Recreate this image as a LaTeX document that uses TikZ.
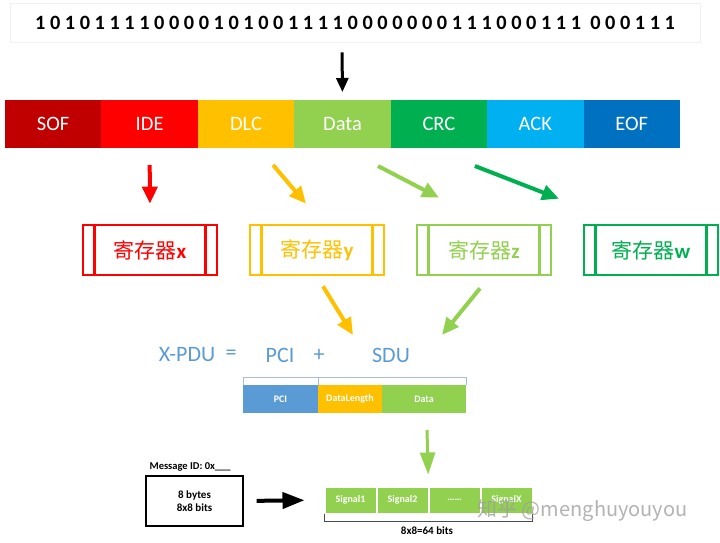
\documentclass[tikz,border=0pt]{standalone}
\usepackage{fontspec}
\setmainfont{Carlito}
\newfontfamily\cjk{Noto Sans CJK SC}
\usetikzlibrary{arrows.meta,positioning}
\definecolor{sofred}{HTML}{C00000}
\definecolor{idered}{HTML}{FF0000}
\definecolor{dlcyellow}{HTML}{FFC000}
\definecolor{datagreen}{HTML}{92D050}
\definecolor{crcgreen}{HTML}{00B050}
\definecolor{ackblue}{HTML}{00B0F0}
\definecolor{eofblue}{HTML}{0070C0}
\definecolor{pciblue}{HTML}{5B9BD5}
\definecolor{bracketgray}{HTML}{A9BCD3}
\tikzset{
  seg/.style={minimum width=96.43pt,minimum height=48pt,inner sep=0pt,outer sep=0pt,text=white,font=\fontsize{20.5}{24}\selectfont},
  regbox/.style={draw=#1,line width=2.6pt,text=#1,minimum width=134pt,minimum height=50pt,font=\fontsize{21}{24}\selectfont},
  fatarrow/.style={line width=4pt,draw=#1,-{Triangle[length=17pt,width=15pt]}},
  pdubox/.style={minimum height=28pt,inner sep=0pt,outer sep=0pt,text=white,font=\bfseries\fontsize{10}{12}\selectfont},
  sigbox/.style={draw=white,line width=1pt,fill=datagreen,minimum width=51pt,minimum height=26pt,inner sep=0pt,text=white,font=\bfseries\fontsize{10}{12}\selectfont},
  pdutext/.style={text=pciblue,font=\fontsize{22}{26}\selectfont},
}
\begin{document}
\begin{tikzpicture}[x=1pt, y=-1pt]
  \useasboundingbox (0,0) rectangle (720,543);
  % bit stream
  \node[draw=gray!12,line width=0.8pt,minimum width=690pt,minimum height=39pt,font=\bfseries\fontsize{20.3}{24}\selectfont] (bits) at (355,22.5) {1 0 1 0 1 1 1 1 0 0 0 0 1 0 1 0 0 1 1 1 1 0 0 0 0 0 0 0 1 1 1 0 0 0 1 1 1 \ 0 0 0 1 1 1};
  % frame fields
  \node[seg,fill=sofred] (sof) at (53.2,124) {SOF};
  \node[seg,fill=idered,right=0pt of sof] (ide) {IDE};
  \node[seg,fill=dlcyellow,right=0pt of ide] (dlc) {DLC};
  \node[seg,fill=datagreen,right=0pt of dlc] (data) {Data};
  \node[seg,fill=crcgreen,right=0pt of data] (crc) {CRC};
  \node[seg,fill=ackblue,right=0pt of crc] (ack) {ACK};
  \node[seg,fill=eofblue,right=0pt of ack] (eof) {EOF};
  \draw[line width=3pt,-{Triangle[length=14pt,width=12pt]}] ([xshift=-13pt]bits.south) -- (data.north) [shorten <=10pt, shorten >=8pt];
  % registers
  \node[regbox=idered] (rx) at (150,250) {{\cjk 寄存器}\textbf{x}};
  \node[regbox=dlcyellow] (ry) at (317,250) {{\cjk 寄存器}\textbf{y}};
  \node[regbox=datagreen] (rz) at (484,250) {{\cjk 寄存器}\textbf{z}};
  \node[regbox=crcgreen] (rw) at (651,250) {{\cjk 寄存器}\textbf{w}};
  \foreach \r/\c in {rx/idered, ry/dlcyellow, rz/datagreen, rw/crcgreen} {
    \draw[\c,line width=2.6pt] ([xshift=13pt]\r.north west) -- ([xshift=13pt]\r.south west);
    \draw[\c,line width=2.6pt] ([xshift=-13pt]\r.north east) -- ([xshift=-13pt]\r.south east);
  }
  \draw[fatarrow=idered,shorten <=17pt,shorten >=20pt] (ide.south) -- (rx.north);
  \draw[fatarrow=dlcyellow] ([shift={(27,17)}]dlc.south) -- ([shift={(-11,-20)}]ry.north);
  \draw[fatarrow=datagreen] ([shift={(35.5,18)}]data.south) -- ([shift={(-45,-26)}]rz.north);
  \draw[fatarrow=crcgreen] ([shift={(36,18)}]crc.south) -- ([shift={(-92,-25)}]rw.north);
  % PDU
  \node[pdutext] (xpdu) at (187,355) {X-PDU};
  \node[pdutext] (eq) at (231,355) {=};
  \node[pdutext] (pcit) at (280,355) {PCI};
  \node[pdutext] (plus) at (319,355) {+};
  \node[pdutext] (sdu) at (391,355) {SDU};
  \draw[fatarrow=dlcyellow] ([shift={(6,10)}]ry.south) -- ([shift={(34,-20)}]plus.center);
  \draw[fatarrow=datagreen] ([shift={(-4,12)}]rz.south) -- ([shift={(51,-20)}]sdu.center);
  \node[pdubox,fill=pciblue,minimum width=75pt] (pdupci) at (280.5,399) {PCI};
  \node[pdubox,fill=dlcyellow,minimum width=64pt,right=0pt of pdupci] (pdulen) {DataLength};
  \node[pdubox,fill=datagreen,minimum width=84pt,right=0pt of pdulen] (pdudata) {Data};
  \draw[bracketgray,line width=1pt] (pdupci.north west) -- ++(0,-8) -- ([yshift=8pt]pdudata.north east) -- (pdudata.north east);
  \draw[bracketgray,line width=1pt] (pdulen.north west) -- ++(0,-8);
  % signals
  \node[draw,line width=1.2pt,minimum width=97pt,minimum height=50pt,align=center,font=\bfseries\fontsize{11}{13.5}\selectfont] (msg) at (194.5,501) {8 bytes\\8x8 bits};
  \node[anchor=south west,inner sep=1pt,font=\bfseries\fontsize{10.5}{12}\selectfont] (msgid) at ([xshift=3pt,yshift=3pt]msg.north west) {Message ID: 0x\_\_\_};
  \node[sigbox] (sig1) at (350.5,500) {Signal1};
  \node[sigbox,right=0pt of sig1] (sig2) {Signal2};
  \node[sigbox,right=0pt of sig2] (sig3) {……};
  \node[sigbox,right=0pt of sig3] (sig4) {SignalX};
  \draw[gray!60!black,line width=0.8pt] (sig1.south west) -- ++(0,8) -- ([yshift=-8pt]sig4.south east) -- (sig4.south east);
  \node[font=\bfseries\fontsize{11}{13}\selectfont] (bitsum) at (427,531) {8x8=64 bits};
  \draw[fatarrow=datagreen,line width=3pt,-{Triangle[length=22pt,width=15pt]}] ([shift={(3,17)}]pdudata.south) -- (sig2.north east) [shorten >=12pt];
  \draw[line width=4pt,-{Triangle[length=22pt,width=16pt]},shorten <=13pt,shorten >=20pt] (msg.east) -- (sig1.west);
  \node[anchor=west,text=gray!75,opacity=0.8,font=\cjk\fontsize{20}{24}\selectfont] (mark) at (474,511) {知乎 @menghuyouyou};
\end{tikzpicture}
\end{document}
